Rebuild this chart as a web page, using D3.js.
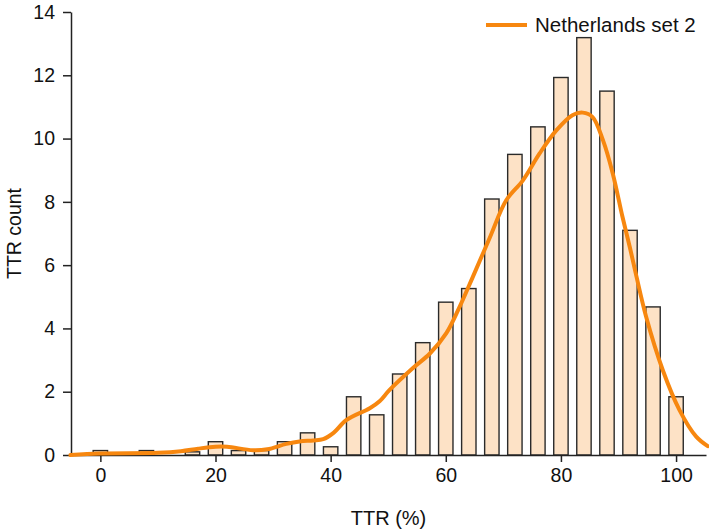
<!DOCTYPE html>
<html>
<head>
<meta charset="utf-8">
<script src="https://cdn.jsdelivr.net/npm/d3@7"></script>
<style>
  html, body { margin: 0; padding: 0; background: #fff; }
  svg { display: block; }
  text { font-family: "Liberation Sans", Arial, Helvetica, sans-serif; fill: #111; }
</style>
</head>
<body>
<svg id="chart" width="709" height="530"></svg>
<script>
// ---- data ----
const binCenters = [0, 4, 8, 12, 16, 20, 24, 28, 32, 36, 40, 44, 48, 52, 56, 60, 64, 68, 72, 76, 80, 84, 88, 92, 96, 100];
const binCounts  = [0.14, 0, 0.14, 0, 0.1, 0.42, 0.14, 0.14, 0.42, 0.7, 0.26, 1.84, 1.27, 2.56, 3.55, 4.83, 5.26, 8.09, 9.5, 10.37, 11.93, 13.19, 11.5, 7.1, 4.68, 1.84];
const curveX = [-5.2, 0, 10, 14, 17, 20, 22, 26.5, 29, 32.3, 34.6, 37, 38.7, 40.5, 42.7, 46.8, 48.5, 50.2, 54.3, 57.2, 60.1, 62.4, 64.7, 67.6, 70.5, 73.4, 76.3, 79.2, 82, 83.8, 85.5, 87.3, 89, 90.7, 92, 93, 94.8, 97.7, 100.6, 103.5, 105.5];
const curveY = [0, 0.05, 0.07, 0.12, 0.2, 0.26, 0.26, 0.15, 0.18, 0.35, 0.43, 0.46, 0.5, 0.7, 1.1, 1.48, 1.7, 2.05, 2.75, 3.2, 3.85, 4.68, 5.63, 6.85, 8.05, 8.68, 9.53, 10.26, 10.74, 10.82, 10.68, 9.95, 8.9, 7.52, 6.54, 5.74, 4.37, 2.68, 1.42, 0.58, 0.28];
const xTicks = [0, 20, 40, 60, 80, 100];
const yTicks = [0, 2, 4, 6, 8, 10, 12, 14];
const seriesName = "Netherlands set 2";
const xTitle = "TTR (%)";
const yTitle = "TTR count";

// ---- layout ----
const svg = d3.select("#chart");
const pLeft = 71, pRight = 706, pTop = 12, pBottom = 455;
const x = d3.scaleLinear().domain([-5.1, 105.2]).range([pLeft, pRight]);
const y = d3.scaleLinear().domain([0, 14]).range([pBottom, pTop]);
const binWidth = 2.5;

const orange = "#f7870f";
const fill = "#fde2c6";
const dark = "#222";

// bars
svg.append("g").selectAll("rect")
  .data(binCenters.map((c, i) => ({c, v: binCounts[i]})).filter(d => d.v > 0))
  .join("rect")
  .attr("x", d => x(d.c - binWidth / 2))
  .attr("width", d => x(d.c + binWidth / 2) - x(d.c - binWidth / 2))
  .attr("y", d => y(d.v))
  .attr("height", d => y(0) - y(d.v))
  .attr("fill", fill)
  .attr("stroke", "#2a2a2a")
  .attr("stroke-width", 1.4);

// axes
const xAxis = d3.axisBottom(x).tickValues(xTicks).tickSize(7).tickPadding(6).tickSizeOuter(0);
const gx = svg.append("g").attr("transform", `translate(0,${pBottom})`).call(xAxis);
gx.select(".domain").attr("stroke", dark).attr("stroke-width", 1.5);
gx.selectAll(".tick line").attr("stroke", dark).attr("stroke-width", 1.5);
gx.selectAll(".tick text").attr("font-size", 19.5).attr("fill", "#111")
  .attr("font-family", "'Liberation Sans', Arial, sans-serif");

const yAxis = d3.axisLeft(y).tickValues(yTicks).tickSize(8).tickPadding(8).tickSizeOuter(0);
const gy = svg.append("g").attr("transform", `translate(${pLeft},0)`).call(yAxis);
gy.select(".domain").attr("stroke", dark).attr("stroke-width", 1.5);
gy.selectAll(".tick line").attr("stroke", dark).attr("stroke-width", 1.5);
gy.selectAll(".tick text").attr("font-size", 19.5).attr("fill", "#111")
  .attr("font-family", "'Liberation Sans', Arial, sans-serif");

// density curve
const line = d3.line().x(d => x(d[0])).y(d => y(d[1])).curve(d3.curveCatmullRom.alpha(0.5));
svg.append("path")
  .datum(curveX.map((v, i) => [v, curveY[i]]))
  .attr("d", line)
  .attr("fill", "none")
  .attr("stroke", orange)
  .attr("stroke-width", 4)
  .attr("stroke-linecap", "round");

// axis titles
svg.append("text").attr("x", (pLeft + pRight) / 2).attr("y", 525)
  .attr("text-anchor", "middle").attr("font-size", 20).text(xTitle);
svg.append("text").attr("transform", `translate(21,${(pTop + pBottom) / 2}) rotate(-90)`)
  .attr("text-anchor", "middle").attr("font-size", 19.5).text(yTitle);

// legend
svg.append("line").attr("x1", 486).attr("x2", 527).attr("y1", 25).attr("y2", 25)
  .attr("stroke", orange).attr("stroke-width", 4);
svg.append("text").attr("x", 535).attr("y", 32).attr("font-size", 20.5).text(seriesName);
</script>
</body>
</html>
